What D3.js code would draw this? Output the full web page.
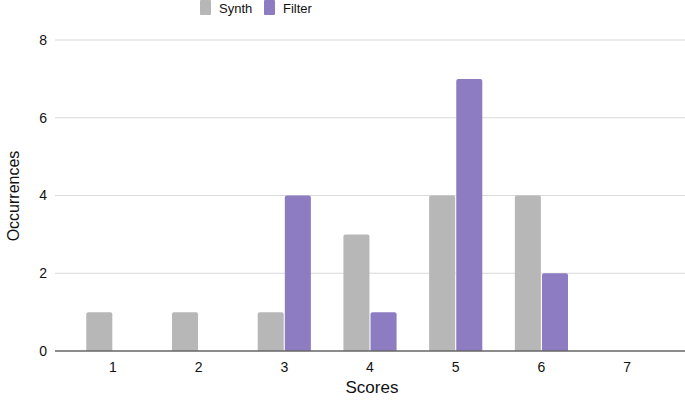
<!DOCTYPE html>
<html>
<head>
<meta charset="utf-8">
<script src="https://cdn.jsdelivr.net/npm/d3@7"></script>
<style>
  body { margin: 0; background: #fff; }
  text { font-family: "Liberation Sans", Arial, sans-serif; fill: #111; }
</style>
</head>
<body>
<div id="chart"></div>
<script>
const scores = ["1", "2", "3", "4", "5", "6", "7"];
const seriesNames = ["Synth", "Filter"];
const synth = [1, 1, 1, 3, 4, 4, 0];
const filter = [0, 0, 4, 1, 7, 2, 0];
const yTicks = [0, 2, 4, 6, 8];
const colors = ["#b7b7b7", "#8e7cc3"];

const width = 685, height = 400;
const svg = d3.select("#chart").append("svg")
    .attr("width", width)
    .attr("height", height);

let x = d3.scaleBand().domain(scores).range([70, 670]).paddingInner(0).paddingOuter(0);
// two bars of ~26px with a 1px gap, centered in each band
let xSub = d3.scaleBand().domain(seriesNames).range([0, x.bandwidth()]).paddingInner(0.04).paddingOuter(0.6);
let y = d3.scaleLinear().domain([0, 8]).range([351, 40]);

// gridlines
svg.append("g").selectAll("line.grid")
    .data(yTicks.filter(d => d !== 0))
    .enter().append("line")
    .attr("class", "grid")
    .attr("x1", 55).attr("x2", width)
    .attr("y1", d => y(d)).attr("y2", d => y(d))
    .attr("stroke", "#d9d9d9")
    .attr("stroke-width", 1);

// y tick labels
svg.append("g").selectAll("text.ytick")
    .data(yTicks)
    .enter().append("text")
    .attr("class", "ytick")
    .attr("x", 47)
    .attr("y", d => y(d))
    .attr("dy", "0.35em")
    .attr("text-anchor", "end")
    .style("font-size", "14px")
    .text(d => d);

// bars
let rows = scores.map((s, i) => ({ score: s, values: [synth[i], filter[i]] }));
let group = svg.append("g").selectAll("g.group")
    .data(rows)
    .enter().append("g")
    .attr("class", "group")
    .attr("transform", d => "translate(" + x(d.score) + ",0)");

group.selectAll("path")
    .data(d => d.values.map((v, j) => ({ name: seriesNames[j], value: v, color: colors[j] })).filter(b => b.value > 0))
    .enter().append("path")
    .attr("fill", d => d.color)
    .attr("d", d => {
        let x0 = xSub(d.name), w = xSub.bandwidth();
        let top = y(d.value), bottom = y(0), r = 2;
        return "M" + x0 + "," + bottom +
            "V" + (top + r) +
            "Q" + x0 + "," + top + " " + (x0 + r) + "," + top +
            "H" + (x0 + w - r) +
            "Q" + (x0 + w) + "," + top + " " + (x0 + w) + "," + (top + r) +
            "V" + bottom + "Z";
    });

// baseline
svg.append("line")
    .attr("x1", 55).attr("x2", width)
    .attr("y1", y(0)).attr("y2", y(0))
    .attr("stroke", "#666")
    .attr("stroke-width", 1.3);

// x tick labels
svg.append("g").selectAll("text.xtick")
    .data(scores)
    .enter().append("text")
    .attr("class", "xtick")
    .attr("x", d => x(d) + x.bandwidth() / 2)
    .attr("y", 372)
    .attr("text-anchor", "middle")
    .style("font-size", "14px")
    .text(d => d);

// axis titles
svg.append("text")
    .attr("x", 372).attr("y", 393)
    .attr("text-anchor", "middle")
    .style("font-size", "17px")
    .text("Scores");

svg.append("text")
    .attr("transform", "translate(19,196) rotate(-90)")
    .attr("text-anchor", "middle")
    .style("font-size", "16px")
    .text("Occurrences");

// legend
let legendX = [200, 264];
let legend = svg.append("g").selectAll("g.legend")
    .data(seriesNames)
    .enter().append("g")
    .attr("class", "legend")
    .attr("transform", (d, i) => "translate(" + legendX[i] + ",0)");

legend.append("rect")
    .attr("x", 0).attr("y", 0)
    .attr("width", 11).attr("height", 15)
    .attr("rx", 1)
    .attr("fill", (d, i) => colors[i]);

legend.append("text")
    .attr("x", 19).attr("y", 12.5)
    .style("font-size", "13px")
    .text(d => d);
</script>
</body>
</html>
